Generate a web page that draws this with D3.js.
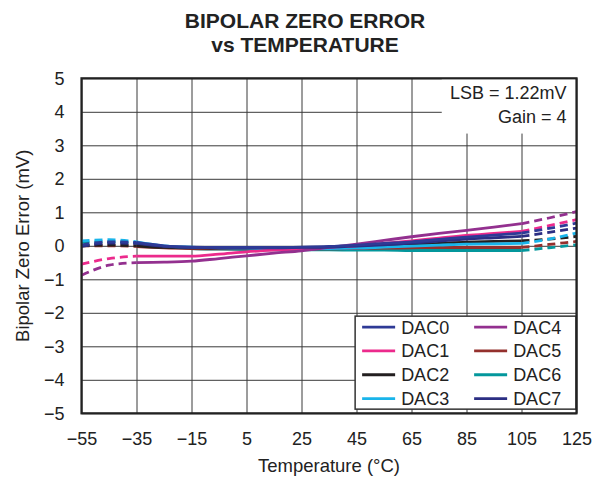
<!DOCTYPE html>
<html>
<head>
<meta charset="utf-8">
<script src="https://cdn.jsdelivr.net/npm/d3@7"></script>
<style>
  body { margin: 0; background: #fff; }
  text { font-family: "Liberation Sans", Arial, sans-serif; fill: #222; }
</style>
</head>
<body>
<div id="chart"></div>
<script>
// temperatures (°C) where values were read
var temps = [-55, -45, -35, -25, -15, -5, 5, 15, 25, 35, 45, 55, 65, 75, 85, 95, 105, 115, 125];

// bipolar zero error (mV) per DAC
var dac0 = [0.02, 0.12, 0.10, 0.00, -0.04, -0.05, -0.05, -0.05, -0.04, -0.02, 0.02, 0.07, 0.12, 0.19, 0.26, 0.32, 0.38, 0.52, 0.68];
var dac1 = [-0.55, -0.38, -0.31, -0.31, -0.31, -0.25, -0.18, -0.13, -0.09, -0.04, 0.00, 0.07, 0.15, 0.23, 0.31, 0.37, 0.43, 0.60, 0.78];
var dac2 = [0.00, 0.02, 0.00, -0.05, -0.06, -0.07, -0.07, -0.07, -0.07, -0.06, -0.04, -0.01, 0.03, 0.07, 0.11, 0.13, 0.15, 0.20, 0.28];
var dac3 = [0.15, 0.18, 0.12, 0.00, -0.04, -0.06, -0.07, -0.08, -0.08, -0.08, -0.07, -0.04, -0.01, 0.02, 0.05, 0.06, 0.07, 0.20, 0.38];
var dac4 = [-0.88, -0.58, -0.50, -0.49, -0.46, -0.38, -0.30, -0.22, -0.15, -0.05, 0.05, 0.16, 0.27, 0.37, 0.46, 0.56, 0.66, 0.83, 1.02];
var dac5 = [0.00, 0.00, -0.02, -0.06, -0.08, -0.09, -0.09, -0.09, -0.09, -0.09, -0.08, -0.07, -0.06, -0.05, -0.05, -0.05, -0.05, 0.04, 0.13];
var dac6 = [0.10, 0.12, 0.08, -0.03, -0.08, -0.10, -0.11, -0.12, -0.12, -0.12, -0.13, -0.13, -0.14, -0.14, -0.14, -0.14, -0.14, -0.06, 0.03];
var dac7 = [-0.02, 0.08, 0.07, -0.02, -0.05, -0.06, -0.06, -0.06, -0.05, -0.04, -0.01, 0.03, 0.08, 0.14, 0.20, 0.24, 0.28, 0.40, 0.53];

var seriesNames = ["DAC0", "DAC1", "DAC2", "DAC3", "DAC4", "DAC5", "DAC6", "DAC7"];
var seriesValues = [dac0, dac1, dac2, dac3, dac4, dac5, dac6, dac7];
var seriesColors = ["#2e3a96", "#ec2a8c", "#231f20", "#19b4ea", "#93308f", "#94302d", "#03979c", "#2b2e83"];

var xTicks = [-55, -35, -15, 5, 25, 45, 65, 85, 105, 125];
var yTicks = [-5, -4, -3, -2, -1, 0, 1, 2, 3, 4, 5];

var svgWidth = 604;
var svgHeight = 478;

var margin = { top: 78.3, bottom: 64.7, left: 81.5, right: 27.5 };
var width = svgWidth - margin.left - margin.right;
var height = svgHeight - margin.top - margin.bottom;

var svg = d3.select("#chart")
  .append("svg")
  .attr("width", svgWidth)
  .attr("height", svgHeight);

var chartGroup = svg.append("g")
  .attr("transform", `translate(${margin.left}, ${margin.top})`);

// scales
var xScale = d3.scaleLinear().domain([-55, 125]).range([0, width]);
var yScale = d3.scaleLinear().domain([-5, 5]).range([height, 0]);

// grid + tick labels
var xAxis = d3.axisBottom(xScale).tickValues(xTicks).tickSize(-height).tickPadding(19);
var yAxis = d3.axisLeft(yScale).tickValues(yTicks).tickSize(-width).tickPadding(17);

var gx = chartGroup.append("g")
  .attr("transform", `translate(0, ${height})`)
  .call(xAxis);
var gy = chartGroup.append("g")
  .call(yAxis);

[gx, gy].forEach(function(g) {
  g.select(".domain").remove();
  g.selectAll(".tick line").attr("stroke", "#3a3a3a").attr("stroke-width", 1);
  g.selectAll(".tick text")
    .attr("font-size", "18px")
    .attr("fill", "#222")
    .style("font-family", "'Liberation Sans', Arial, sans-serif");
});

// info box (covers grid)
chartGroup.append("rect")
  .attr("x", xScale(76))
  .attr("y", 0)
  .attr("width", width - xScale(76))
  .attr("height", yScale(3.35))
  .attr("fill", "#fff");

chartGroup.append("text")
  .attr("x", width - 10)
  .attr("y", yScale(4.38))
  .attr("text-anchor", "end")
  .attr("font-size", "18px")
  .text("LSB = 1.22mV");

chartGroup.append("text")
  .attr("x", width - 10)
  .attr("y", yScale(3.66))
  .attr("text-anchor", "end")
  .attr("font-size", "18px")
  .text("Gain = 4");

// lines: dashed below -35 and above 105
var line = d3.line()
  .x(d => xScale(d.t))
  .y(d => yScale(d.v))
  .curve(d3.curveMonotoneX);

var drawOrder = [6, 5, 2, 3, 1, 4, 7, 0];
drawOrder.forEach(function(i) {
  var pts = temps.map((t, j) => ({ t: t, v: seriesValues[i][j] }));
  var parts = [
    { data: pts.filter(d => d.t <= -35), dash: "8,5" },
    { data: pts.filter(d => d.t >= -35 && d.t <= 105), dash: null },
    { data: pts.filter(d => d.t >= 105), dash: "8,5" }
  ];
  parts.forEach(function(p) {
    chartGroup.append("path")
      .datum(p.data)
      .attr("d", line)
      .attr("fill", "none")
      .attr("stroke", seriesColors[i])
      .attr("stroke-width", 2.8)
      .attr("stroke-dasharray", p.dash);
  });
});

// legend
var legendGroup = chartGroup.append("g")
  .attr("transform", `translate(${xScale(44.5)}, ${yScale(-2.1)})`);

legendGroup.append("rect")
  .attr("width", width - xScale(44.5) - 0.5)
  .attr("height", 93)
  .attr("fill", "#fff")
  .attr("stroke", "#333")
  .attr("stroke-width", 1.5);

seriesNames.forEach(function(name, i) {
  var col = Math.floor(i / 4);
  var row = i % 4;
  var item = legendGroup.append("g")
    .attr("transform", `translate(${7 + col * 112}, ${11 + row * 23.8})`);
  item.append("line")
    .attr("x1", 0).attr("x2", 33)
    .attr("y1", 0).attr("y2", 0)
    .attr("stroke", seriesColors[i])
    .attr("stroke-width", 2.8);
  item.append("text")
    .attr("x", 39)
    .attr("y", 6.5)
    .attr("font-size", "18px")
    .text(name);
});

// frame
chartGroup.append("rect")
  .attr("width", width)
  .attr("height", height)
  .attr("fill", "none")
  .attr("stroke", "#222")
  .attr("stroke-width", 2.2);

// title
svg.append("text")
  .attr("x", 305)
  .attr("y", 28)
  .attr("text-anchor", "middle")
  .attr("font-size", "21px")
  .attr("font-weight", "bold")
  .attr("fill", "#111")
  .text("BIPOLAR ZERO ERROR");

svg.append("text")
  .attr("x", 305)
  .attr("y", 52)
  .attr("text-anchor", "middle")
  .attr("font-size", "21px")
  .attr("font-weight", "bold")
  .attr("fill", "#111")
  .text("vs TEMPERATURE");

// axis labels
svg.append("text")
  .attr("x", margin.left + width / 2)
  .attr("y", 472)
  .attr("text-anchor", "middle")
  .attr("font-size", "18.5px")
  .text("Temperature (°C)");

svg.append("text")
  .attr("transform", `translate(29, ${margin.top + height / 2}) rotate(-90)`)
  .attr("text-anchor", "middle")
  .attr("font-size", "18.5px")
  .text("Bipolar Zero Error (mV)");
</script>
</body>
</html>
